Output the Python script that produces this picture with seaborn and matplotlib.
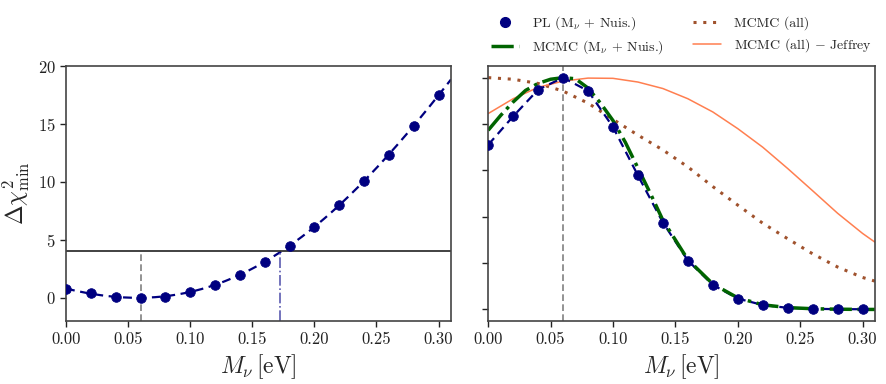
import numpy as np
import pandas as pd
import matplotlib
matplotlib.use("Agg")
import matplotlib.pyplot as plt
import seaborn as sns
from matplotlib.lines import Line2D

# ---------------- data ----------------
mnu = [0.00, 0.02, 0.04, 0.06, 0.08, 0.10, 0.12, 0.14, 0.16, 0.18, 0.20, 0.22, 0.24, 0.26, 0.28, 0.30]
dchi2_pl = [0.77, 0.40, 0.11, 0.00, 0.11, 0.49, 1.12, 2.00, 3.12, 4.50, 6.13, 8.00, 10.09, 12.35, 14.84, 17.50]
like_pl = [0.710, 0.833, 0.948, 1.000, 0.943, 0.787, 0.578, 0.375, 0.211, 0.106, 0.047, 0.019, 0.007, 0.003, 0.001, 0.001]

mnu_green = [0.00, 0.01, 0.02, 0.03, 0.04, 0.05, 0.06, 0.07, 0.08, 0.09, 0.10, 0.11, 0.12, 0.13, 0.14,
             0.16, 0.18, 0.20, 0.22, 0.24, 0.26, 0.28, 0.30, 0.31]
like_green = [0.773, 0.837, 0.895, 0.945, 0.975, 0.993, 1.000, 0.995, 0.955, 0.890, 0.815, 0.720, 0.610,
              0.500, 0.385, 0.215, 0.110, 0.050, 0.020, 0.008, 0.003, 0.001, 0.000, 0.000]

mnu_mc = [0.00, 0.02, 0.04, 0.06, 0.08, 0.10, 0.12, 0.14, 0.16, 0.18, 0.20, 0.22, 0.24, 0.26, 0.28, 0.30, 0.31]
like_all = [1.000, 0.993, 0.975, 0.942, 0.890, 0.820, 0.752, 0.688, 0.615, 0.530, 0.450, 0.372, 0.305,
            0.240, 0.183, 0.138, 0.122]
like_jeff = [0.845, 0.909, 0.958, 0.985, 0.998, 0.997, 0.981, 0.953, 0.909, 0.852, 0.780, 0.700, 0.608,
             0.512, 0.415, 0.328, 0.290]

best_fit = 0.06
upper_95 = 0.172
chi2_95 = 4.0

# ---------------- style ----------------
sns.set_theme(style="ticks")
plt.rcParams.update({
    "font.family": "serif",
    "font.serif": ["cmr10"],
    "mathtext.fontset": "cm",
    "axes.formatter.use_mathtext": True,
    "axes.unicode_minus": False,
    "axes.edgecolor": "#444444",
    "axes.linewidth": 1.2,
    "xtick.color": "#222222",
    "ytick.color": "#222222",
    "xtick.labelsize": 12,
    "ytick.labelsize": 12,
})

fig = plt.figure(figsize=(8.86, 3.84), dpi=100)
ax1 = fig.add_axes([0.0745, 0.164, 0.4345, 0.664])
ax2 = fig.add_axes([0.551, 0.164, 0.4366, 0.664])

# ---------------- left panel ----------------
coef = np.polyfit(mnu, dchi2_pl, 4)
xfit = np.linspace(0, 0.31, 200)
df_fit = pd.DataFrame({"x": xfit, "y": np.polyval(coef, xfit)})
sns.lineplot(data=df_fit, x="x", y="y", ax=ax1, color="navy", lw=1.6, linestyle=(0, (4, 2.5)))
df_pl = pd.DataFrame({"x": mnu, "y": dchi2_pl})
sns.scatterplot(data=df_pl, x="x", y="y", ax=ax1, color="navy", s=48, edgecolor="navy", zorder=3)
ax1.axhline(chi2_95, color="#333333", lw=1.3)
ax1.vlines(best_fit, -2, chi2_95, color="gray", lw=1.2, linestyle=(0, (4, 2)))
ax1.vlines(upper_95, -2, chi2_95, color="#5b5bb0", lw=1.2, linestyle="-.")
ax1.set_xlim(0, 0.31)
ax1.set_ylim(-2, 20)
ax1.set_xticks([0, 0.05, 0.10, 0.15, 0.20, 0.25, 0.30])
ax1.set_xticklabels(["0.00", "0.05", "0.10", "0.15", "0.20", "0.25", "0.30"])
ax1.set_yticks([0, 5, 10, 15, 20])
ax1.set_xlabel(r"$M_\nu\,[\mathrm{eV}]$", fontsize=17)
ax1.set_ylabel(r"$\Delta\chi^2_{\rm min}$", fontsize=17)

# ---------------- right panel ----------------
df_all = pd.DataFrame({"x": mnu_mc, "y": like_all})
sns.lineplot(data=df_all, x="x", y="y", ax=ax2, color="sienna", lw=2.2, linestyle=(0, (1, 2.2)))
df_j = pd.DataFrame({"x": mnu_mc, "y": like_jeff})
sns.lineplot(data=df_j, x="x", y="y", ax=ax2, color="coral", lw=1.1)
df_r = pd.DataFrame({"x": mnu, "y": like_pl})
sns.lineplot(data=df_r, x="x", y="y", ax=ax2, color="navy", lw=1.6, linestyle=(0, (4, 2.5)))
df_g = pd.DataFrame({"x": mnu_green, "y": like_green})
sns.lineplot(data=df_g, x="x", y="y", ax=ax2, color="darkgreen", lw=2.5, linestyle="-.")
sns.scatterplot(data=df_r, x="x", y="y", ax=ax2, color="navy", s=48, edgecolor="navy", zorder=3)
ax2.axvline(best_fit, color="gray", lw=1.2, linestyle=(0, (4, 2)))
ax2.set_xlim(0, 0.31)
ax2.set_ylim(-0.05, 1.05)
ax2.set_xticks([0, 0.05, 0.10, 0.15, 0.20, 0.25, 0.30])
ax2.set_xticklabels(["0.00", "0.05", "0.10", "0.15", "0.20", "0.25", "0.30"])
ax2.set_yticks([0, 0.2, 0.4, 0.6, 0.8, 1.0])
ax2.set_yticklabels([])
ax2.set_xlabel(r"$M_\nu\,[\mathrm{eV}]$", fontsize=17)
ax2.set_ylabel("")

for ax in (ax1, ax2):
    ax.tick_params(direction="out", length=4, width=1.0)

handles = [
    Line2D([], [], marker="o", color="navy", linestyle="none", markersize=7),
    Line2D([], [], color="darkgreen", lw=2.5, linestyle="-."),
    Line2D([], [], color="sienna", lw=2.2, linestyle=(0, (1, 2.2))),
    Line2D([], [], color="coral", lw=1.1),
]
labels = [
    r"PL (M$_\nu$ + Nuis.)",
    r"MCMC (M$_\nu$ + Nuis.)",
    "MCMC (all)",
    r"MCMC (all) $-$ Jeffrey",
]
fig.legend(handles, labels, ncol=2, frameon=False, fontsize=10,
           loc="upper left", bbox_to_anchor=(491 / 886, 1 - 14 / 384),
           borderpad=0, borderaxespad=0,
           handlelength=2.0, handletextpad=0.94, columnspacing=2.1, labelspacing=0.45)

fig.savefig("out.png", dpi=100)
